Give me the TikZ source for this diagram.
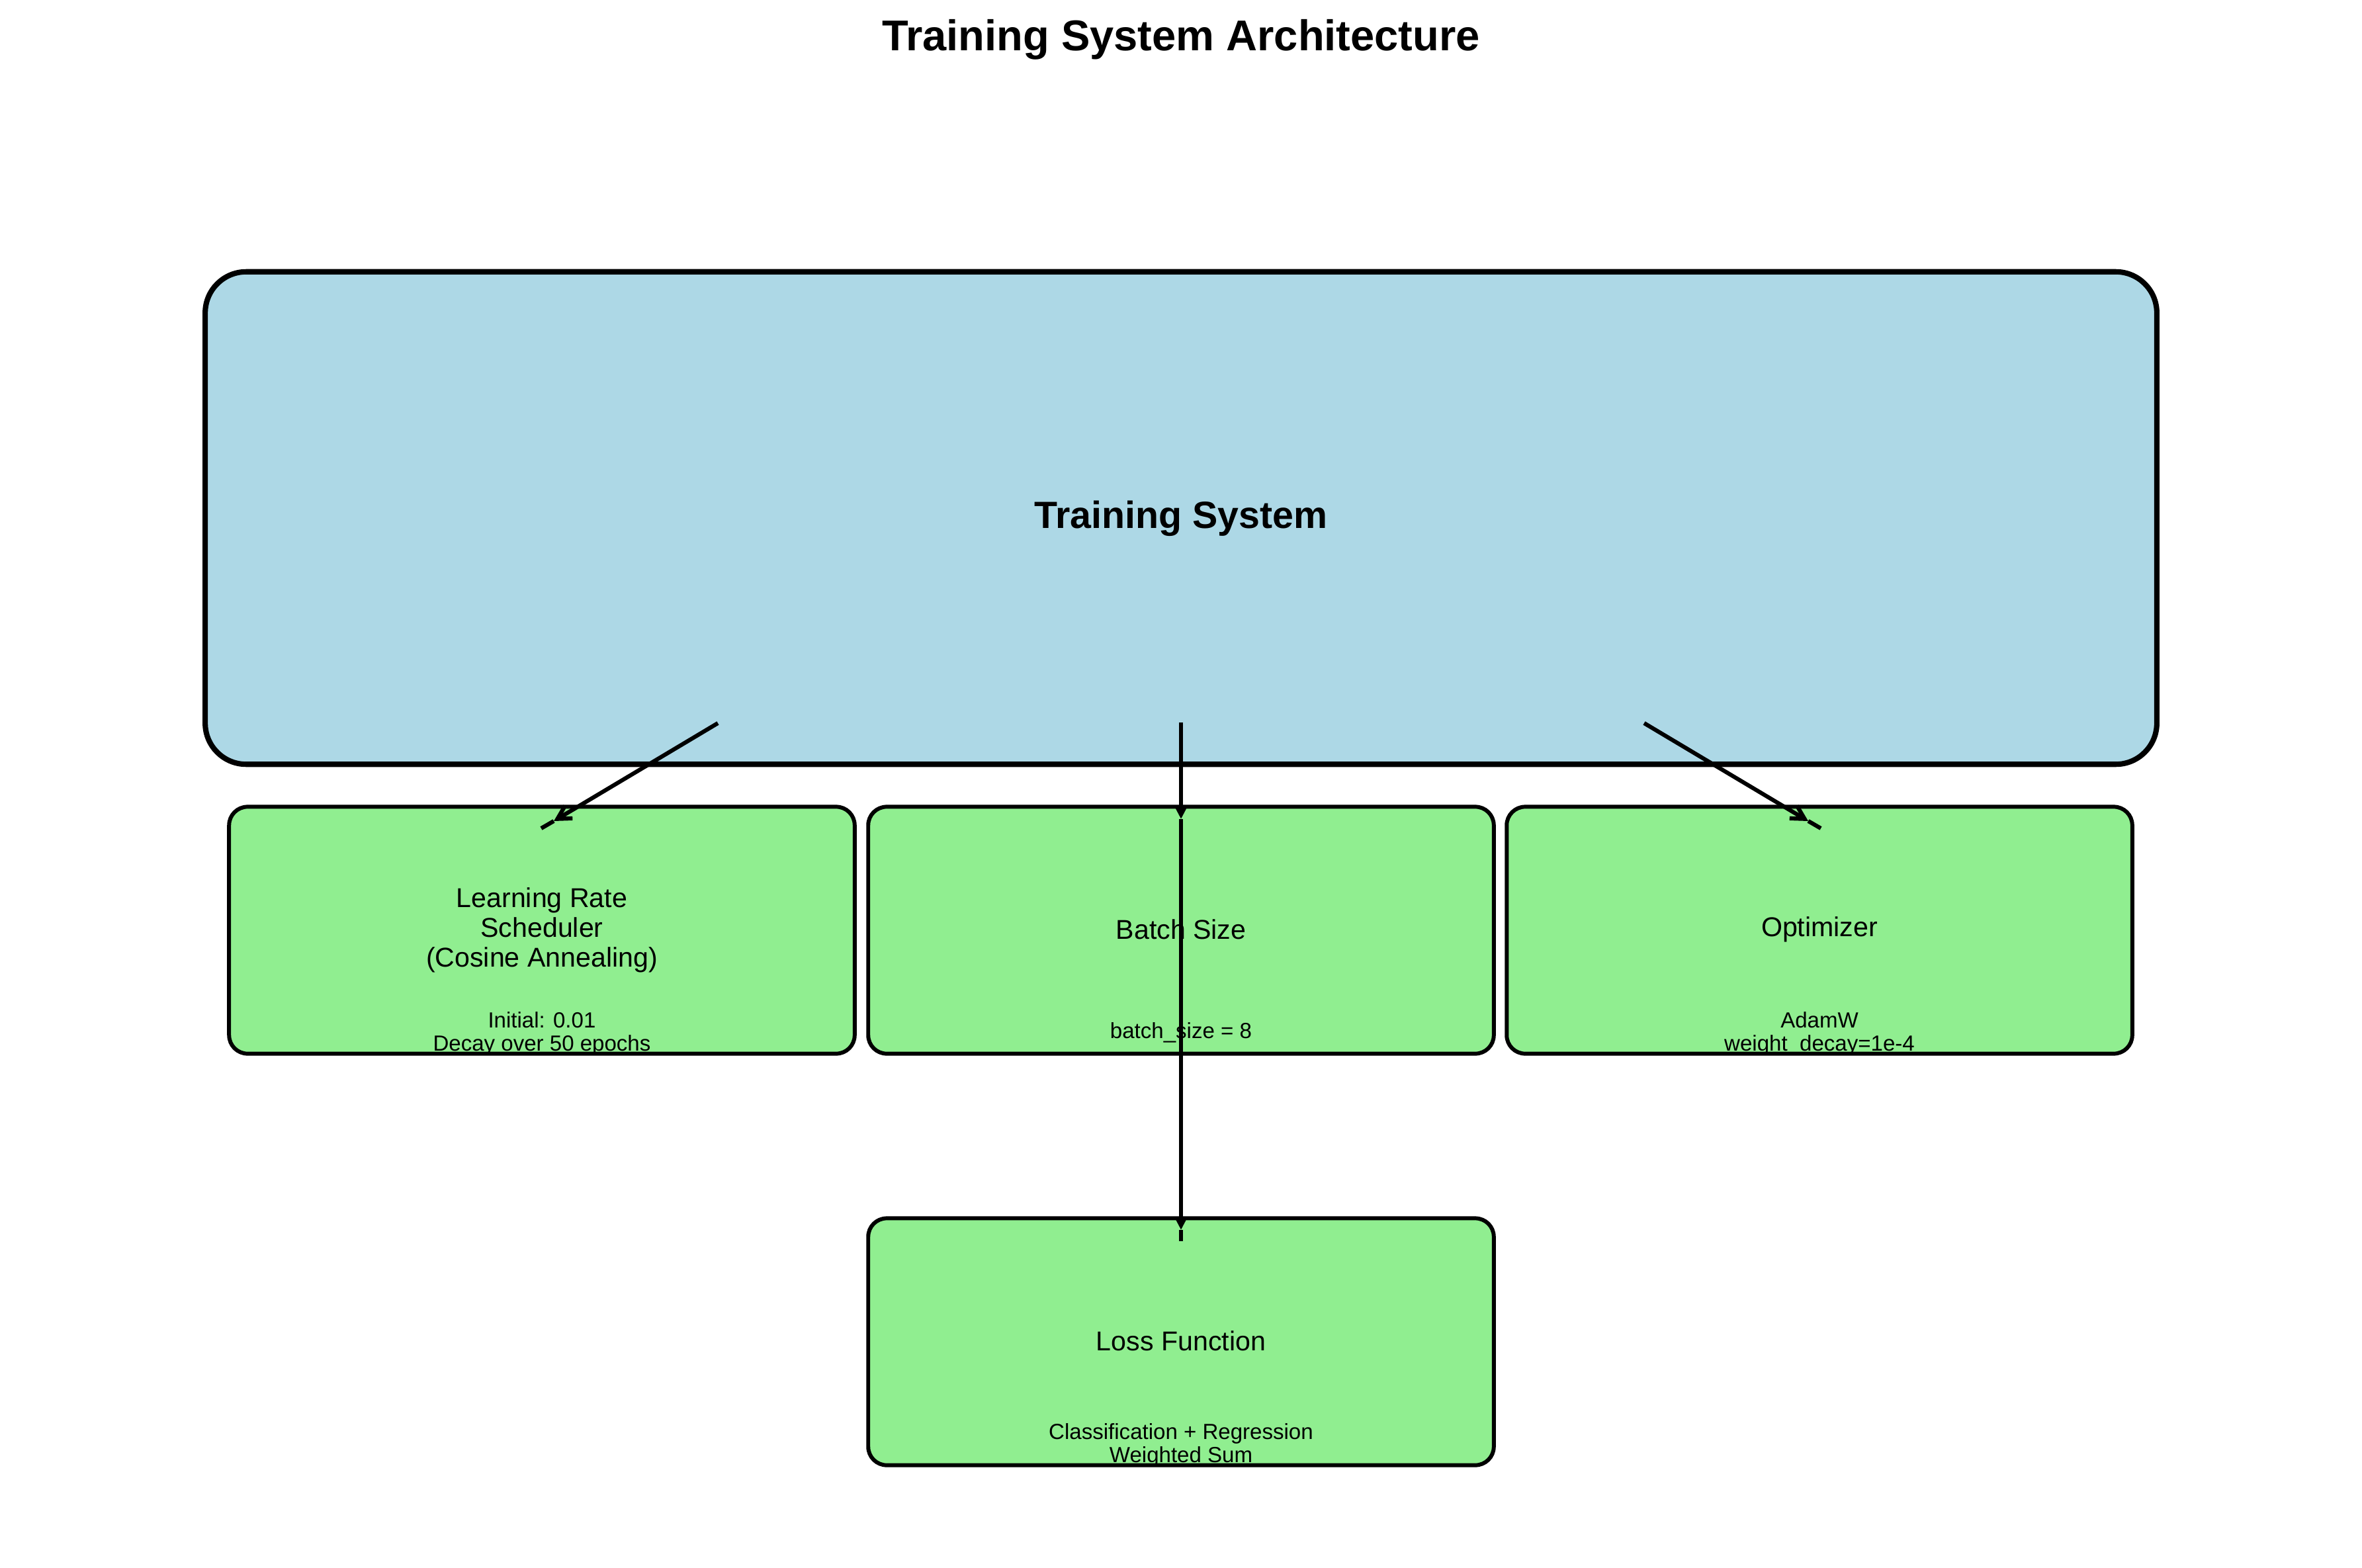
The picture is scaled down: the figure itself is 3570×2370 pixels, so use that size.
\documentclass[tikz,border=0pt]{standalone}
\usepackage{fontspec}
\setmainfont{Liberation Sans}
\usetikzlibrary{arrows.meta}
\definecolor{sysblue}{HTML}{ADD8E6}
\definecolor{compgreen}{HTML}{90EE90}
\tikzset{
  mainbox/.style={draw=black, fill=sysblue, line width=2.3pt, rounded corners=0.62cm,
    minimum width=29.48cm, minimum height=7.44cm, inner sep=0pt},
  compbox/.style={draw=black, fill=compgreen, line width=1.7pt, rounded corners=0.28cm,
    minimum width=9.45cm, minimum height=3.73cm, inner sep=0pt},
  mainlabel/.style={align=center, inner sep=0pt, font=\fontsize{11.7pt}{12.8pt}\selectfont},
  sublabel/.style={align=center, inner sep=0pt, font=\fontsize{9.4pt}{9.95pt}\selectfont},
  conn/.style={line width=1.75pt, -{Straight Barb[length=2mm,width=2.2mm]}},
  vconn/.style={line width=1.75pt, -{Triangle[length=2mm,width=1.9mm]}},
  connline/.style={line width=1.75pt},
}
\begin{document}
\begin{tikzpicture}[x=0.01cm, y=-0.01cm]
\useasboundingbox (0,0) rectangle (3570,2370);
\fill[white] (0,0) rectangle (3570,2370);

\node[font=\fontsize{18.5pt}{20pt}\selectfont\bfseries, inner sep=0pt] (title) at (1785,60) {Training System Architecture};

\node[mainbox] (sys) at (1785,783) {};
\node[font=\fontsize{16.3pt}{18pt}\selectfont\bfseries, inner sep=0pt] (systext) at (1785,784) {Training System};

\node[compbox] (lr) at (819,1406) {};
\node[compbox] (bs) at (1785,1406) {};
\node[compbox] (opt) at (2750,1406) {};
\node[compbox] (loss) at (1785,2028) {};

\node[mainlabel] (lrtext) at (819,1406) {Learning Rate\\Scheduler\\(Cosine Annealing)};
\node[sublabel] (lrsub) at (819,1562) {Initial: 0.01\\Decay over 50 epochs};
\node[mainlabel] (bstext) at (1785,1405) {Batch Size};
\node[sublabel] (bssub) at (1785,1561) {batch\_size = 8};
\node[mainlabel] (opttext) at (2750,1405) {Optimizer};
\node[sublabel] (optsub) at (2750,1562) {AdamW\\weight\_decay=1e-4};
\node[mainlabel] (losstext) at (1785,2027) {Loss Function};
\node[sublabel] (losssub) at (1785,2184) {Classification + Regression\\Weighted Sum};

% connector coordinates
\coordinate (a1s) at (1085,1093);
\coordinate (a1h) at (837,1241);
\coordinate (a1e) at (818,1252);
\coordinate (a2s) at (1785,1092);
\coordinate (a2h) at (1785,1238);
\coordinate (a2e) at (1785,1255);
\coordinate (a3s) at (2485,1093);
\coordinate (a3h) at (2733,1241);
\coordinate (a3e) at (2752,1252);
\coordinate (a4s) at (1785,1250);
\coordinate (a4h) at (1785,1859);
\coordinate (a4e) at (1785,1876);

\draw[conn] (a1s) -- (a1h);
\draw[connline] (a1h) -- (a1e);
\draw[vconn] (a2s) -- (a2h);
\draw[connline] (a2h) -- (a2e);
\draw[conn] (a3s) -- (a3h);
\draw[connline] (a3h) -- (a3e);
\draw[vconn] (a4s) -- (a4h);
\draw[connline] (a4h) -- (a4e);
\end{tikzpicture}
\end{document}
